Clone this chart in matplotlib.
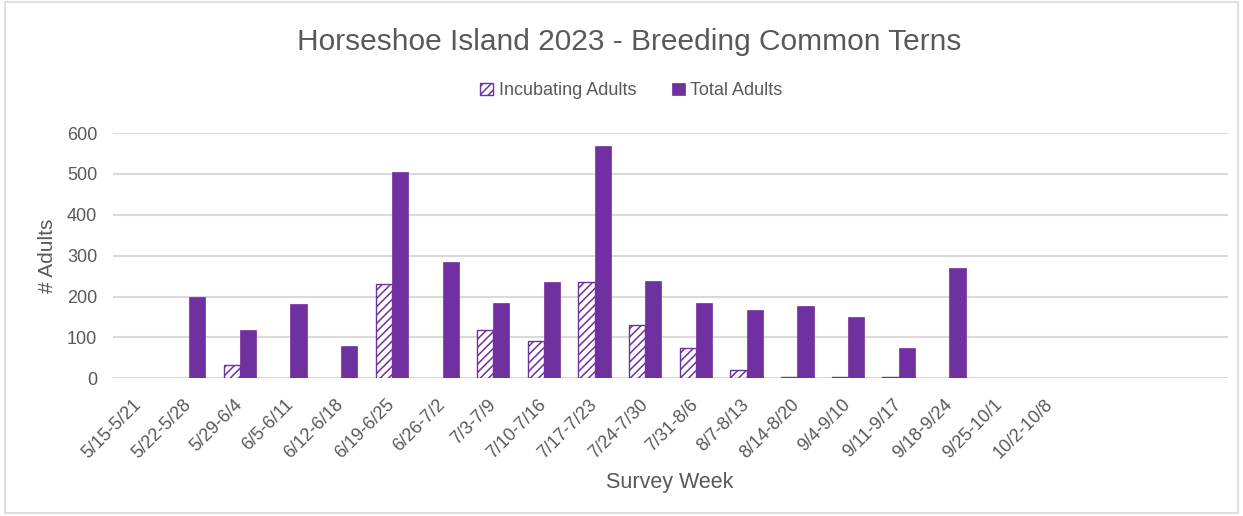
import matplotlib.pyplot as plt
import matplotlib.transforms as mtrans
import numpy as np
from matplotlib.patches import Rectangle

plt.rcParams['font.family'] = ['Liberation Sans', 'DejaVu Sans']
plt.rcParams['hatch.linewidth'] = 1.1

# survey weeks (3 trailing blank slots as in the original sheet)
weeks = ['5/15-5/21', '5/22-5/28', '5/29-6/4', '6/5-6/11', '6/12-6/18', '6/19-6/25',
         '6/26-7/2', '7/3-7/9', '7/10-7/16', '7/17-7/23', '7/24-7/30', '7/31-8/6',
         '8/7-8/13', '8/14-8/20', '9/4-9/10', '9/11-9/17', '9/18-9/24', '9/25-10/1',
         '10/2-10/8', '', '', '']
incubating = [0, 0, 33, 0, 0, 230, 0, 118, 92, 236, 131, 74, 20, 2, 2, 3, 0, 0, 0, 0, 0, 0]
total = [0, 200, 119, 182, 78, 504, 284, 184, 235, 568, 237, 184, 167, 177, 151, 73, 271, 0, 0, 0, 0, 0]

purple = '#7030A0'
grey_txt = '#595959'
grid_c = '#D9D9D9'

# empty weeks draw nothing
inc_draw = np.where(np.array(incubating) == 0, np.nan, incubating)
tot_draw = np.where(np.array(total) == 0, np.nan, total)

fig = plt.figure(figsize=(12.43, 5.16), dpi=100)
ax = fig.add_axes([0.091, 0.267, 0.897, 0.475])

x = np.arange(len(weeks))
w = 0.32
ax.bar(x - w/2, inc_draw, width=w, color='white', edgecolor=purple, hatch='////',
       linewidth=1.0, label='Incubating Adults', zorder=3)
ax.bar(x + w/2, tot_draw, width=w, color=purple, edgecolor=purple, linewidth=0.5,
       label='Total Adults', zorder=3)

ax.set_xlim(-0.5, len(weeks) - 0.5)
ax.set_ylim(0, 600)
ax.set_yticks(range(0, 601, 100))
ax.yaxis.grid(True, color=grid_c, linewidth=1.5, zorder=0)
for s in ax.spines.values():
    s.set_visible(False)
ax.tick_params(length=0, labelsize=13, colors=grey_txt)
ax.tick_params(axis='y', pad=11.5)
ax.tick_params(axis='x', pad=0)
ax.set_xticks(x)
ax.set_xticklabels(weeks, rotation=45, ha='right', va='center', rotation_mode='anchor')
shift = mtrans.ScaledTranslation(0.0, -0.24, fig.dpi_scale_trans)
for lab in ax.get_xticklabels():
    lab.set_transform(lab.get_transform() + shift)
ax.set_ylabel('# Adults', fontsize=15, color=grey_txt)
ax.yaxis.set_label_coords(-0.05, 0.5)

fig.text(0.506, 0.919, 'Horseshoe Island 2023 - Breeding Common Terns', ha='center', va='center',
         fontsize=21.5, color=grey_txt)
fig.text(0.539, 0.064, 'Survey Week', ha='center', va='center', fontsize=15.5, color=grey_txt)
fig.legend(loc='center', bbox_to_anchor=(0.508, 0.824), ncol=2, frameon=False,
           fontsize=13, labelcolor=grey_txt, handlelength=0.7, handleheight=0.7,
           handletextpad=0.3, columnspacing=2.0)

fig.patches.append(Rectangle((0.004, 0.006), 0.992, 0.99, transform=fig.transFigure,
                             fill=False, edgecolor=grid_c, linewidth=1.2))

fig.savefig('out.png', dpi=100)
